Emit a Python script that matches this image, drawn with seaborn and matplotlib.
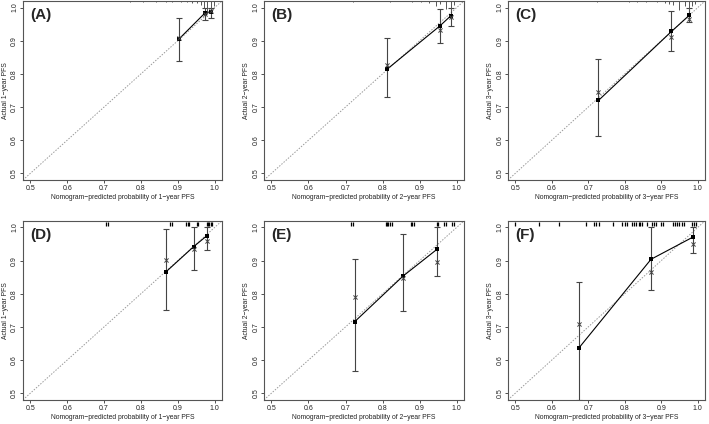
import matplotlib
matplotlib.use("Agg")
import matplotlib.pyplot as plt
import matplotlib.transforms as mtransforms
import seaborn as sns
import numpy as np
import pandas as pd

# Panel labels and time points
panels = ["(A)", "(B)", "(C)", "(D)", "(E)", "(F)"]
years = [1, 2, 3, 1, 2, 3]

# Predicted (x), apparent observed (dots), CI and bias-corrected (x markers)
pred = [[0.903, 0.975, 0.989],
        [0.812, 0.954, 0.984],
        [0.728, 0.928, 0.977],
        [0.867, 0.943, 0.979],
        [0.725, 0.855, 0.948],
        [0.674, 0.872, 0.987]]
obs = [[0.905, 0.985, 0.987],
       [0.814, 0.944, 0.975],
       [0.720, 0.928, 0.977],
       [0.865, 0.942, 0.975],
       [0.716, 0.853, 0.935],
       [0.636, 0.904, 0.971]]
ci_lo = [[0.840, 0.962, 0.970],
         [0.730, 0.894, 0.946],
         [0.612, 0.869, 0.958],
         [0.752, 0.872, 0.932],
         [0.567, 0.748, 0.853],
         [0.480, 0.810, 0.923]]
ci_hi = [[0.968, 1.000, 1.000],
         [0.908, 0.997, 1.000],
         [0.845, 0.990, 1.000],
         [0.995, 1.000, 1.000],
         [0.904, 0.980, 1.000],
         [0.834, 1.000, 1.000]]
corrected = [[0.908, 0.982, 0.990],
             [0.828, 0.931, 0.972],
             [0.745, 0.910, 0.966],
             [0.903, 0.936, 0.960],
             [0.790, 0.848, 0.897],
             [0.710, 0.866, 0.949]]

# Distribution of predictions (top row: spike heights, bottom row: rug)
spike_x = [[0.77, 0.805, 0.84, 0.867, 0.885, 0.908, 0.926, 0.938, 0.952, 0.962, 0.97, 0.98, 0.99, 0.997],
           [0.72, 0.821, 0.88, 0.903, 0.925, 0.944, 0.955, 0.971, 0.985, 0.993],
           [0.725, 0.812, 0.833, 0.857, 0.888, 0.911, 0.92, 0.933, 0.949, 0.965, 0.976, 0.985, 0.993]]
spike_h = [[1, 1, 1, 1, 1, 1.5, 1.5, 2, 2.5, 4, 7, 13, 14, 5],
           [1, 1, 1, 1.5, 2, 5, 3, 8, 10, 4],
           [1, 1, 1, 1, 1.5, 2, 3, 4, 9, 5, 10, 5, 3]]
rug_x = [[0.706, 0.71, 0.879, 0.885, 0.923, 0.927, 0.931, 0.951, 0.954,
          0.978, 0.982, 0.986, 0.99, 0.994],
         [0.715, 0.72, 0.808, 0.812, 0.816, 0.82, 0.825, 0.876, 0.88, 0.884,
          0.946, 0.951, 0.967, 0.972, 0.988, 0.992],
         [0.5, 0.566, 0.62, 0.694, 0.716, 0.722, 0.73, 0.768, 0.793, 0.8, 0.805,
          0.82, 0.825, 0.83, 0.838, 0.843, 0.848, 0.86, 0.874, 0.879, 0.885,
          0.9, 0.904, 0.931, 0.937, 0.943, 0.948, 0.956, 0.961, 0.985, 0.99, 0.995]]

ticks = [0.5, 0.6, 0.7, 0.8, 0.9, 1.0]

sns.set_style("ticks")
plt.rcParams["font.family"] = ["Liberation Sans", "DejaVu Sans"]

fig = plt.figure(figsize=(7.09, 4.24), dpi=100)
lefts = [0.0324, 0.3724, 0.7165]
widths = [0.2807, 0.2821, 0.2779]
bottoms = [0.5755, 0.057]

for k in range(6):
    row, col = k // 3, k % 3
    ax = fig.add_axes([lefts[col], bottoms[row], widths[col], 0.4222])
    lim = (0.48, 1.02)
    ax.set_xlim(lim)
    ax.set_ylim(lim)

    # ideal line
    ax.plot(lim, lim, color="#999999", ls=(0, (1.5, 1.5)), lw=0.7, zorder=1)

    df = pd.DataFrame({"pred": pred[k], "obs": obs[k],
                       "lo": ci_lo[k], "hi": ci_hi[k], "corr": corrected[k]})
    ax.errorbar(df["pred"], df["obs"],
                yerr=[df["obs"] - df["lo"], df["hi"] - df["obs"]],
                fmt="none", ecolor="#444444", elinewidth=0.8, capsize=2.2,
                capthick=0.8, zorder=2)
    sns.lineplot(data=df, x="pred", y="obs", ax=ax, color="black", lw=0.8,
                 marker="s", markersize=2.4, markeredgewidth=0, sort=False,
                 zorder=3)
    sns.scatterplot(data=df, x="pred", y="corr", ax=ax,
                    marker="x", s=9, color="#444444", linewidth=0.7, zorder=4)

    trans = mtransforms.blended_transform_factory(ax.transData, ax.transAxes)
    if row == 0:
        hh = np.array(spike_h[col]) / 179.0
        ax.vlines(spike_x[col], 1 - hh, 1, color="#555555", lw=0.7,
                  transform=trans, zorder=2)
    else:
        ax.vlines(rug_x[col], 0.972, 0.992, color="black", lw=0.9,
                  transform=trans, zorder=2)

    ax.set_xticks(ticks)
    ax.set_yticks(ticks)
    ax.set_xticklabels(["%.1f" % t for t in ticks])
    ax.set_yticklabels(["%.1f" % t for t in ticks], rotation=90, va="center")
    ax.tick_params(direction="out", length=2.2, width=0.6, labelsize=5,
                   pad=1.2, colors="#333333", labelcolor="#222222")
    for s in ax.spines.values():
        s.set_linewidth(0.8)
        s.set_color("#555555")
    ax.set_xlabel("Nomogram\u2212predicted probability of %d\u2212year PFS" % years[k],
                  fontsize=4.9, labelpad=2, color="#222222")
    ax.set_ylabel("Actual %d\u2212year PFS" % years[k], fontsize=4.9,
                  labelpad=1.5, color="#222222")
    ax.text(0.035, 0.92, panels[k], transform=ax.transAxes, fontsize=11,
            fontweight="bold", va="center", ha="left")

fig.savefig("out.png", dpi=100)
